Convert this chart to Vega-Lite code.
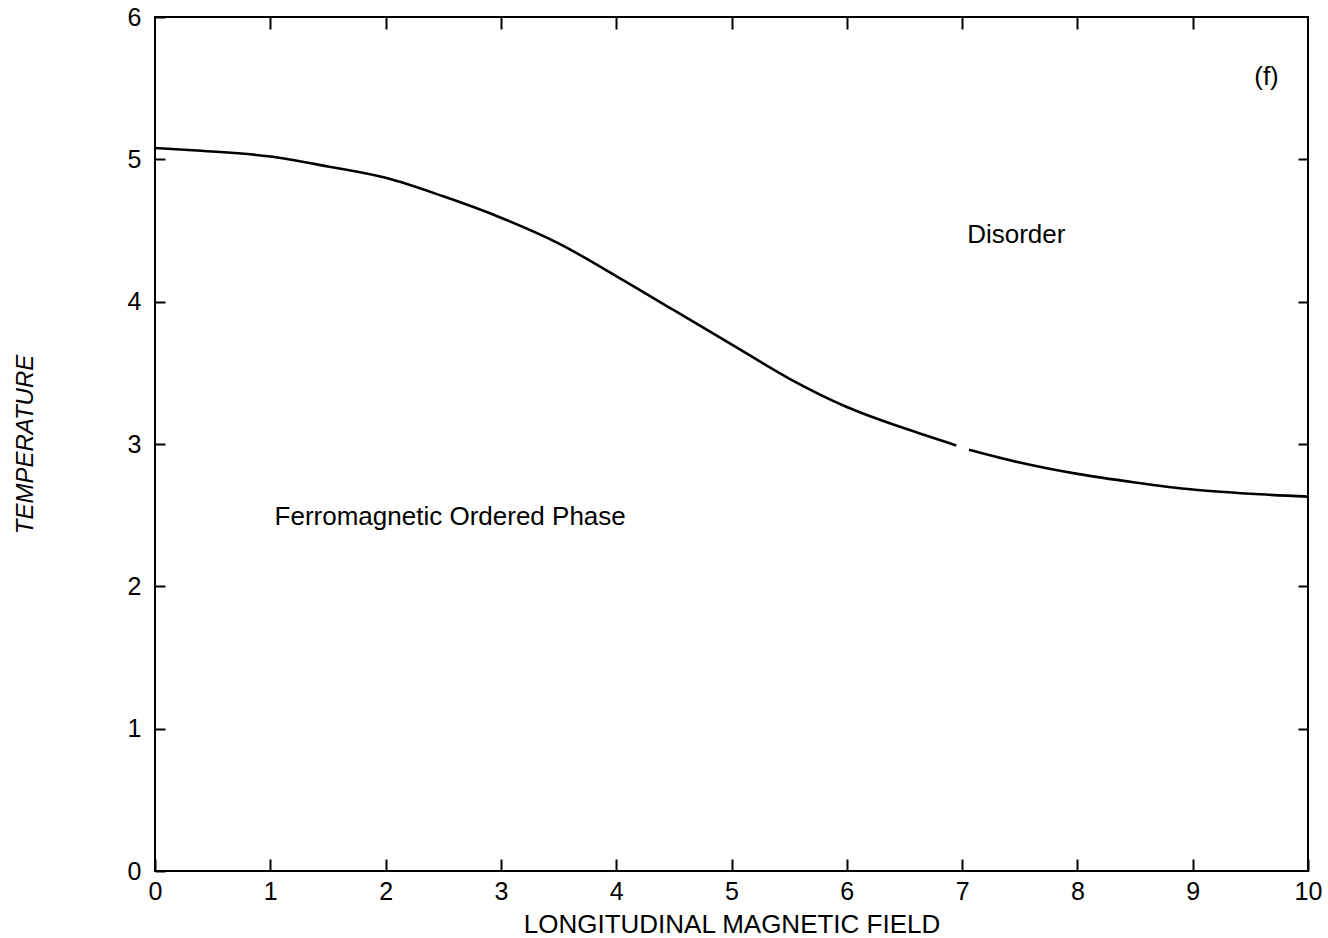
{
  "$schema": "https://vega.github.io/schema/vega-lite/v6.json",
  "autosize": {"type": "none"},
  "padding": {"left": 155, "top": 17, "right": 20, "bottom": 67},
  "width": 1153,
  "height": 854,
  "background": "white",
  "config": {
    "view": {"stroke": "black", "strokeWidth": 2},
    "font": "Liberation Sans",
    "axis": {
      "domain": false,
      "grid": false,
      "tickColor": "black",
      "tickWidth": 2,
      "labelFont": "Liberation Sans",
      "labelFontSize": 25,
      "labelColor": "black",
      "titleFont": "Liberation Sans",
      "titleFontSize": 26,
      "titleFontWeight": "normal",
      "titleColor": "black"
    }
  },
  "datasets": {
    "curve": [
      {"h": 0.0, "t": 5.08, "seg": 1},
      {"h": 0.4, "t": 5.06, "seg": 1},
      {"h": 1.0, "t": 5.02, "seg": 1},
      {"h": 1.5, "t": 4.95, "seg": 1},
      {"h": 2.0, "t": 4.87, "seg": 1},
      {"h": 2.5, "t": 4.74, "seg": 1},
      {"h": 3.0, "t": 4.59, "seg": 1},
      {"h": 3.5, "t": 4.41, "seg": 1},
      {"h": 4.0, "t": 4.18, "seg": 1},
      {"h": 4.5, "t": 3.94, "seg": 1},
      {"h": 5.0, "t": 3.70, "seg": 1},
      {"h": 5.5, "t": 3.46, "seg": 1},
      {"h": 6.0, "t": 3.26, "seg": 1},
      {"h": 6.5, "t": 3.11, "seg": 1},
      {"h": 6.95, "t": 2.99, "seg": 1},
      {"h": 7.06, "t": 2.96, "seg": 2},
      {"h": 7.5, "t": 2.87, "seg": 2},
      {"h": 8.0, "t": 2.79, "seg": 2},
      {"h": 8.5, "t": 2.73, "seg": 2},
      {"h": 9.0, "t": 2.68, "seg": 2},
      {"h": 9.5, "t": 2.65, "seg": 2},
      {"h": 10.0, "t": 2.63, "seg": 2}
    ],
    "labels": [
      {"h": 7.47, "t": 4.47, "txt": "Disorder"},
      {"h": 2.56, "t": 2.49, "txt": "Ferromagnetic Ordered Phase"},
      {"h": 9.64, "t": 5.58, "txt": "(f)"}
    ]
  },
  "layer": [
    {
      "data": {"name": "curve"},
      "mark": {"type": "line", "color": "black", "strokeWidth": 2.6, "interpolate": "monotone"},
      "encoding": {
        "x": {
          "field": "h", "type": "quantitative",
          "scale": {"domain": [0, 10], "nice": false, "zero": false},
          "axis": {
            "orient": "bottom",
            "title": "LONGITUDINAL MAGNETIC FIELD",
            "values": [0, 1, 2, 3, 4, 5, 6, 7, 8, 9, 10],
            "tickSize": -12,
            "labelPadding": 20,
            "titlePadding": 7,
            "labelFlush": false
          }
        },
        "y": {
          "field": "t", "type": "quantitative",
          "scale": {"domain": [0, 6], "nice": false, "zero": false},
          "axis": {
            "orient": "left",
            "title": "TEMPERATURE",
            "titleFontStyle": "italic",
            "titleFontSize": 24,
            "values": [0, 1, 2, 3, 4, 5, 6],
            "tickSize": -10,
            "labelPadding": 24,
            "titlePadding": 90,
            "labelFlush": false
          }
        },
        "detail": {"field": "seg"}
      }
    },
    {
      "data": {"name": "labels"},
      "mark": {"type": "text", "font": "Liberation Sans", "fontSize": 26, "color": "black", "align": "center", "baseline": "middle"},
      "encoding": {
        "x": {
          "field": "h", "type": "quantitative",
          "axis": {"orient": "top", "values": [1, 2, 3, 4, 5, 6, 7, 8, 9], "labels": false, "title": null, "tickSize": -12}
        },
        "y": {
          "field": "t", "type": "quantitative",
          "axis": {"orient": "right", "values": [1, 2, 3, 4, 5], "labels": false, "title": null, "tickSize": -10}
        },
        "text": {"field": "txt"}
      }
    }
  ]
}
